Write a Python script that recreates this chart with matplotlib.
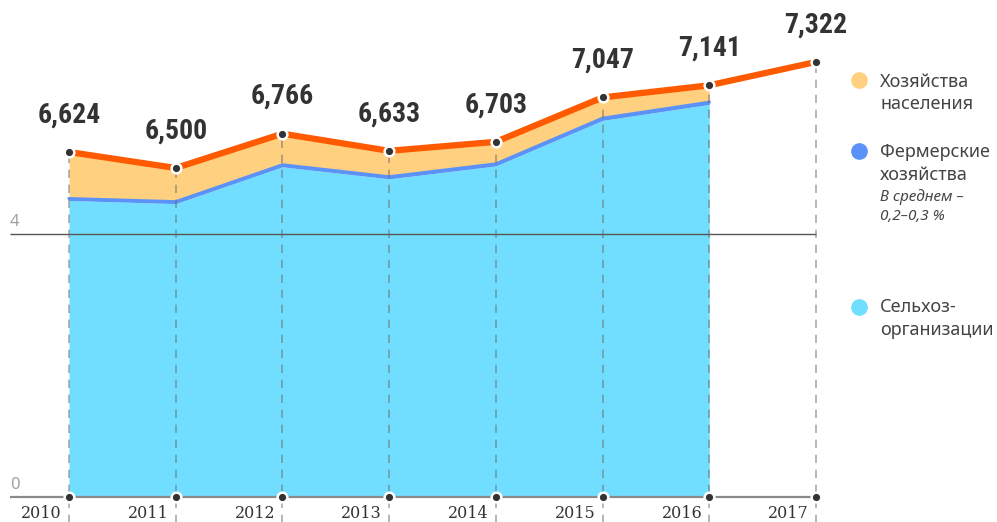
import numpy as np
import matplotlib
matplotlib.use("Agg")
import matplotlib.pyplot as plt

W, H = 997, 522

years = [2010, 2011, 2012, 2013, 2014, 2015, 2016, 2017]
total = [6.624, 6.500, 6.766, 6.633, 6.703, 7.047, 7.141, 7.322]
total_labels = ["6,624", "6,500", "6,766", "6,633", "6,703", "7,047", "7,141", "7,322"]

# stacked parts, 2010-2016
selhoz = [6.248, 6.224, 6.509, 6.416, 6.516, 6.869, 6.993]
farmers = [0.016, 0.016, 0.017, 0.017, 0.017, 0.018, 0.018]
households = [0.36, 0.26, 0.24, 0.20, 0.17, 0.16, 0.13]

ytick_vals = [0, 4]
legend_items = [
  ("#FFD07F", ["Хозяйства", "населения"]),
  ("#5A92F8", ["Фермерские", "хозяйства"]),
  ("#72DEFF", ["Сельхоз-", "организации"]),
]

# broken scale: 0..4 stretched, 4..6 squeezed, above 6 stretched again
knots_v = np.array([-1.0, 0.0, 4.0, 6.0, 9.0])
knots_d = np.array([-65.75, 0.0, 263.0, 264.5, 264.5 + 3 * 129.0])

def fwd(v):
  return np.interp(v, knots_v, knots_d)

def inv(d):
  return np.interp(d, knots_d, knots_v)

def px(x, y):
  return x / W, 1 - y / H

fig = plt.figure(figsize=(W / 100, H / 100), dpi=100)
ax = fig.add_axes([0, 0, 1, 1])
ax.set_yscale("function", functions=(fwd, inv))
x0 = 2010 - 69 / 106.71
ax.set_xlim(x0, x0 + W / 106.71)
ax.set_ylim(inv(-25), inv(497))
ax.axis("off")

yrs7 = years[:7]
s1 = np.array(selhoz)
s2 = s1 + np.array(farmers)
s3 = s2 + np.array(households)
ax.fill_between(yrs7, 0, s1, color="#72DEFF", lw=0, zorder=1)
ax.fill_between(yrs7, s1, s2, color="#5A92F8", lw=0, zorder=1)
ax.fill_between(yrs7, s2, s3, color="#FFD07F", lw=0, zorder=1)
ax.plot(yrs7, s2, color="#5A92F8", lw=2, zorder=2)

line_left = 2010 - 59 / 106.71
ax.hlines(4, line_left, years[-1], color="#555555", lw=1, zorder=2)
ax.hlines(0, line_left, years[-1], color="#8a8a8a", lw=1.6, zorder=2)
for v in ytick_vals:
  ax.annotate(str(v), (line_left, v), xytext=(0, 3), textcoords="offset points",
              ha="left", va="bottom", fontsize=12, color="#a0a0a0", family="Noto Sans")

ax.vlines(years, inv(-30), total, colors="#666666", alpha=0.55, lw=1.2,
          linestyles=(0, (5, 4)), zorder=3)

ax.plot(years, total, color="#FF5A00", lw=4.5, solid_capstyle="butt", zorder=4)
ax.plot(years, total, "o", ms=7, mfc="#333333", mec="white", mew=1.8, zorder=5)
ax.plot(years, [0] * len(years), "o", ms=7, mfc="#333333", mec="white", mew=1.8, zorder=5)

for x, v, t in zip(years, total, total_labels):
  ax.annotate(t, (x, v), xytext=(0, 17), textcoords="offset points", ha="center",
              va="bottom", fontsize=20, fontweight="bold", color="#333333",
              family=["Roboto Condensed", "Liberation Sans"])

for x in years:
  ax.annotate(str(x), (x, 0), xytext=(-5, -6), textcoords="offset points", ha="right",
              va="top", fontsize=11.5, color="#333333", family="DejaVu Serif")

lx, tx = 859, 880
rows = [(80, [82, 104]), (151, [152, 175]), (307, [307, 330])]
for (color, lines), (dy, ty) in zip(legend_items, rows):
  ax.plot(*px(lx, dy), "o", ms=11, color=color, transform=ax.transAxes, clip_on=False)
  for t, y in zip(lines, ty):
    ax.text(*px(tx, y), t, transform=ax.transAxes, ha="left", va="center",
            fontsize=13, color="#444444", family="Noto Sans")
ax.text(*px(tx, 197), "В среднем –", transform=ax.transAxes, ha="left", va="center",
        fontsize=11, style="italic", color="#444444", family="Noto Sans")
ax.text(*px(tx, 217), "0,2–0,3 %", transform=ax.transAxes, ha="left", va="center",
        fontsize=11, style="italic", color="#444444", family="Noto Sans")

fig.savefig("out.png", dpi=100)
